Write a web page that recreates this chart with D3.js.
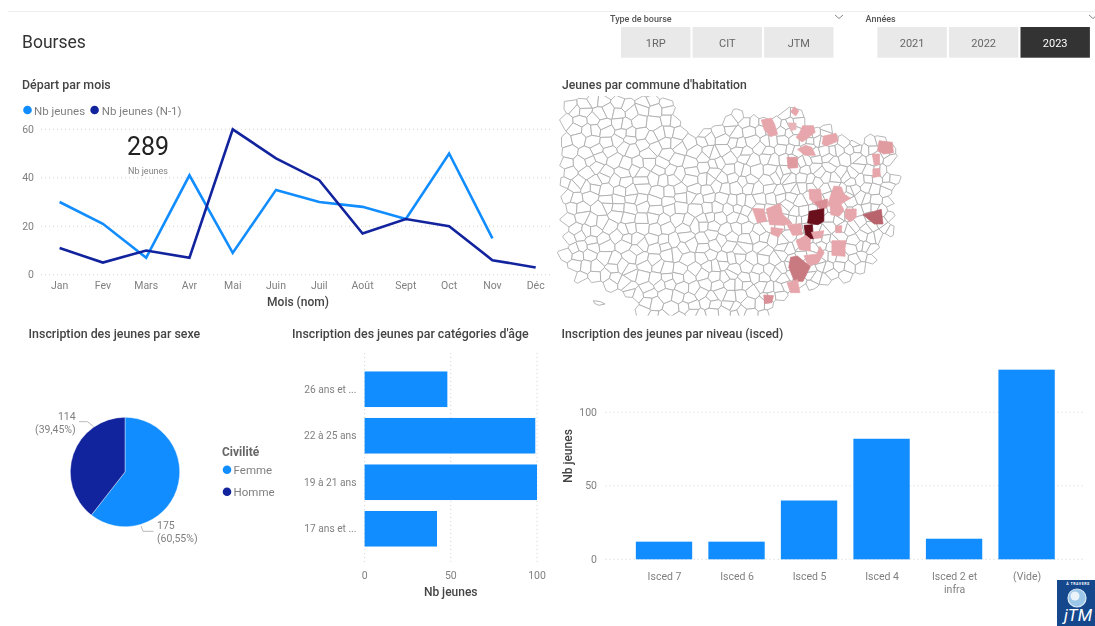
<!DOCTYPE html>
<html><head><meta charset="utf-8">
<script src="https://cdn.jsdelivr.net/npm/d3@7"></script>
<style>
html,body{margin:0;padding:0;background:#fff;overflow:hidden}
svg{display:block;filter:blur(0.45px)}
text{font-family:Roboto,"Noto Sans",sans-serif}
</style></head><body><svg id="c" width="1095" height="626"></svg>
<script>
// ---------- data ----------
const months=["Jan","Fev","Mars","Avr","Mai","Juin","Juil","Août","Sept","Oct","Nov","Déc"];
const nbJeunes=[30,21,7,41,9,35,30,28,23,50,15];
const nbJeunesN1=[11,5,10,7,60,48,39,17,23,20,6,3];
const totalJeunes="289";
const sexes=["Femme","Homme"];
const sexeValues=[175,114];
const sexeLabels=["(60,55%)","(39,45%)"];
const ageCats=["26 ans et ...","22 à 25 ans","19 à 21 ans","17 ans et ..."];
const ageValues=[48,99,100,42];
const iscedCats=[["Isced 7"],["Isced 6"],["Isced 5"],["Isced 4"],["Isced 2 et","infra"],["(Vide)"]];
const iscedValues=[12,12,40,82,14,129];
const bourseTypes=["1RP","CIT","JTM"];
const years=["2021","2022","2023"];
// commune map, in map units
const mapOutline=[[38,325],[100,292],[325,292],[355,340],[395,405],[430,415],[460,380],[540,340],[605,368],[660,345],[710,325],[755,372],[815,375],[825,415],[895,432],[950,415],[982,432],[988,540],[982,640],[998,715],[955,715],[925,795],[878,825],[800,850],[700,875],[640,900],[622,960],[245,960],[232,880],[125,855],[40,815],[45,700],[36,560],[40,400]];
const mapLake=[[125,902],[145,905],[158,912],[140,916],[128,910]];
const communeValues=[2,2,1,2,2,2,3,3,2,2,2,4,2,2,2,6,10,10,2,2,2,2,2,2,2,2,2,5,2,4];
const communeShapes=[
[[703,320],[716,333],[707,348],[692,335]],
[[608,360],[637,354],[646,372],[655,403],[634,410],[616,388]],
[[685,369],[708,369],[708,388],[693,392]],
[[718,398],[727,377],[758,377],[763,397],[737,418],[725,426],[708,412]],
[[787,408],[823,400],[829,423],[795,438],[783,432]],
[[712,448],[735,436],[753,442],[764,466],[733,466]],
[[682,472],[711,472],[713,503],[685,505]],
[[947,422],[985,427],[988,458],[960,462],[942,452]],
[[927,462],[948,462],[948,493],[933,496]],
[[929,507],[948,505],[951,528],[929,533]],
[[745,568],[778,568],[783,602],[765,616],[747,597]],
[[762,607],[798,597],[798,621],[780,632]],
[[817,558],[838,561],[846,582],[865,595],[843,608],[832,618],[797,618],[808,585]],
[[806,617],[838,614],[846,631],[832,649],[808,644]],
[[851,627],[881,627],[881,652],[863,666],[848,652]],
[[900,644],[953,628],[958,672],[933,672]],
[[746,634],[788,626],[788,663],[771,674],[741,669]],
[[731,676],[755,674],[758,716],[737,716]],
[[582,625],[615,627],[624,663],[597,669]],
[[622,627],[662,610],[669,642],[696,670],[672,676],[632,674]],
[[636,682],[672,687],[658,711],[636,702]],
[[682,674],[722,671],[726,704],[698,706]],
[[752,697],[788,692],[783,713],[760,716]],
[[708,722],[736,706],[749,717],[749,753],[718,749]],
[[822,677],[840,677],[838,698],[822,698]],
[[811,722],[852,722],[849,745],[849,769],[811,766]],
[[731,767],[768,762],[776,739],[789,758],[772,789],[743,799]],
[[692,772],[712,768],[749,800],[728,844],[703,844],[687,802]],
[[682,848],[712,839],[719,878],[692,878]],
[[615,885],[643,887],[638,908],[617,911]]];

// ---------- style ----------
const BLUE="#118DFF",NAVY="#12239E",AXIS="#808080",TITLE="#444";
const svg=d3.select("#c");
const text=(x,y,s,o={})=>svg.append("text").attr("x",x).attr("y",y).attr("dy","0.35em")
  .attr("text-anchor",o.a||"start").attr("font-size",o.s||12).attr("font-weight",o.w||400)
  .attr("fill",o.c||AXIS).text(s);
const dottedGrid=(sel)=>sel.attr("stroke","#d4d4d4").attr("stroke-width",1).attr("stroke-dasharray","1 3");

svg.append("line").attr("x1",8).attr("x2",1095).attr("y1",11.5).attr("y2",11.5).attr("stroke","#eeeeee");
text(22,42,"Bourses",{s:17.5,c:"#333"});

// ---------- slicers ----------
text(610,19,"Type de bourse",{s:9,w:500,c:"#555"});
text(865.5,19,"Années",{s:9,w:500,c:"#555"});
[[839,17],[1093,17]].forEach(([x,y])=>svg.append("path").attr("fill","none").attr("stroke","#888")
  .attr("d",d3.line()([[x-4,y-2],[x,y+1.5],[x+4,y-2]])));
const btn=(labels,x0,active)=>{
  const sc=d3.scaleBand().domain(labels).range([x0,x0+212.5]).paddingInner(0.03);
  labels.forEach(l=>{
    svg.append("rect").attr("x",sc(l)).attr("y",27).attr("width",sc.bandwidth()).attr("height",30.7)
      .attr("fill",l===active?"#333":"#e9e9e9");
    text(sc(l)+sc.bandwidth()/2,43,l,{a:"middle",s:11,c:l===active?"#fff":"#666"});
  });
};
btn(bourseTypes,621,null);
btn(years,877.4,"2023");

// ---------- line chart ----------
text(22,85,"Départ par mois",{s:12.4,w:500,c:TITLE});
[[27.5,BLUE,"Nb jeunes",34],[94.6,NAVY,"Nb jeunes (N-1)",101.8]].forEach(([x,c,l,tx])=>{
  svg.append("circle").attr("cx",x).attr("cy",110).attr("r",4.3).attr("fill",c);
  text(tx,110.5,l,{s:11.5});
});
const lx=d3.scalePoint().domain(months).range([59.6,535.7]);
const ly=d3.scaleLinear().domain([0,60]).range([274.7,129.3]);
ly.ticks(3).forEach(t=>{
  dottedGrid(svg.append("line").attr("x1",41).attr("x2",553).attr("y1",ly(t)).attr("y2",ly(t)));
  text(34,ly(t),t,{a:"end",s:10.5});
});
months.forEach(m=>text(lx(m),285.5,m,{a:"middle",s:10.5}));
text(298,302,"Mois (nom)",{a:"middle",s:12,w:500,c:TITLE});
const line=d3.line().x((d,i)=>lx(months[i])).y(d=>ly(d));
[[nbJeunes,BLUE],[nbJeunesN1,NAVY]].forEach(([v,c])=>svg.append("path").attr("d",line(v))
  .attr("fill","none").attr("stroke",c).attr("stroke-width",2.6).attr("stroke-linejoin","miter"));
text(148,146.5,totalJeunes,{a:"middle",s:25,c:"#222"});
text(148,171,"Nb jeunes",{a:"middle",s:9});

// ---------- map ----------
text(562,85,"Jeunes par commune d'habitation",{s:12.2,w:500,c:TITLE});
const mx=d3.scaleLinear().domain([0,1568]).range([550,1095]);
const my=d3.scaleLinear().domain([0,960]).range([0,320]);
const projPath=pts=>d3.line().x(d=>mx(d[0])).y(d=>my(d[1])).curve(d3.curveLinearClosed)(pts);
svg.append("defs").append("clipPath").attr("id","mapClip").append("rect")
  .attr("x",555).attr("y",96).attr("width",360).attr("height",219.5);
const gMap=svg.append("g").attr("clip-path","url(#mapClip)");
// background mesh: commune borders cannot be read one by one, so this is an approximate lattice
const seeds=[];
let rowIdx=0;
for(let yy=250;yy<1000;yy+=29,rowIdx++){
  let xx=-20+(rowIdx%2)*14;
  while(xx<1060){
    const j1=Math.sin(xx*12.9898+yy*78.233)*43758.5453,j2=Math.sin(xx*39.346+yy*11.135)*24634.6345;
    seeds.push([xx+(j1-Math.floor(j1)-.5)*24,yy+(j2-Math.floor(j2)-.5)*22]);
    xx+=xx<420?35:xx<640?30:25;
  }
}
const vor=d3.Delaunay.from(seeds).voronoi([-100,150,1200,1100]);
seeds.forEach((s,i)=>{
  if(!d3.polygonContains(mapOutline,s))return;
  const cell=vor.cellPolygon(i);
  gMap.append("path").attr("d",projPath(cell.slice(0,-1))).attr("fill","#fff")
    .attr("stroke","#ababab").attr("stroke-width",0.85);
});
gMap.append("path").attr("d",projPath(mapLake)).attr("fill","#fff").attr("stroke","#a9a9a9").attr("stroke-width",0.9);
const mapColor=d3.scaleLinear().domain([1,2,4,6,10]).range(["#e9b4b8","#e6a6ab","#d98f95","#b9646d","#6a0f1c"]);
communeShapes.forEach((p,i)=>gMap.append("path").attr("d",projPath(p)).attr("fill",mapColor(communeValues[i]))
  .attr("stroke",mapColor(communeValues[i])).attr("stroke-width",0.7));

// ---------- pie ----------
text(28.6,334,"Inscription des jeunes par sexe",{s:12.4,w:500,c:TITLE});
const pie=d3.pie().sort(null)(sexeValues);
const arc=d3.arc().innerRadius(0).outerRadius(54.7);
const gPie=svg.append("g").attr("transform","translate(125,472)");
gPie.selectAll("path").data(pie).join("path").attr("d",arc)
  .attr("fill",(d,i)=>[BLUE,NAVY][i]).attr("stroke","#fff").attr("stroke-width",0.4);
[[[79,421.7],[87.5,421.7],[93.6,426.7]],[[141,526],[143,531.3],[153.6,531.3]]].forEach(p=>
  svg.append("path").attr("d",d3.line()(p)).attr("fill","none").attr("stroke","#bbb"));
text(75.7,416,sexeValues[1],{a:"end",s:10.5});
text(75.7,429.5,sexeLabels[1],{a:"end",s:10.5});
text(157,525,sexeValues[0],{s:10.5});
text(157,538.7,sexeLabels[0],{s:10.5});
text(222,451.7,"Civilité",{s:12,w:700,c:"#666"});
sexes.forEach((s,i)=>{
  const y=[469.7,491.7][i];
  svg.append("circle").attr("cx",227).attr("cy",y).attr("r",4.3).attr("fill",[BLUE,NAVY][i]);
  text(233.6,y+.5,s,{s:11.5});
});

// ---------- age bars ----------
text(292,334,"Inscription des jeunes par catégories d'âge",{s:12.4,w:500,c:TITLE});
const ax=d3.scaleLinear().domain([0,100]).range([364.6,537]);
const ay=d3.scaleBand().domain(ageCats).range([353,565]).paddingInner(.235).paddingOuter(.397);
ax.ticks(2).forEach(t=>{
  dottedGrid(svg.append("line").attr("x1",ax(t)).attr("x2",ax(t)).attr("y1",353).attr("y2",565));
  text(ax(t),575.5,t,{a:"middle",s:10.5});
});
ageCats.forEach((c,i)=>{
  svg.append("rect").attr("x",ax(0)).attr("y",ay(c)).attr("width",ax(ageValues[i])-ax(0)).attr("height",ay.bandwidth()).attr("fill",BLUE);
  text(356.5,ay(c)+ay.bandwidth()/2,c,{a:"end",s:10.2});
});
text(450.7,592,"Nb jeunes",{a:"middle",s:12,w:500,c:TITLE});

// ---------- isced bars ----------
text(561.5,334,"Inscription des jeunes par niveau (isced)",{s:12.3,w:500,c:TITLE});
const iy=d3.scaleLinear().domain([0,100]).range([559.3,412.3]);
const ix=d3.scaleBand().domain(d3.range(iscedValues.length)).range([605.6,1085]).paddingInner(.223).paddingOuter(.417);
iy.ticks(2).forEach(t=>{
  dottedGrid(svg.append("line").attr("x1",605.6).attr("x2",1085).attr("y1",iy(t)).attr("y2",iy(t)));
  text(597,iy(t),t,{a:"end",s:10.5});
});
iscedValues.forEach((v,i)=>{
  svg.append("rect").attr("x",ix(i)).attr("y",iy(v)).attr("width",ix.bandwidth()).attr("height",iy(0)-iy(v)).attr("fill",BLUE);
  iscedCats[i].forEach((l,k)=>text(ix(i)+ix.bandwidth()/2+.5,576.7+k*13,l,{a:"middle",s:10.5}));
});
svg.append("text").attr("transform","translate(568,456) rotate(-90)").attr("dy","0.35em").attr("text-anchor","middle")
  .attr("font-size",12).attr("font-weight",500).attr("fill",TITLE).text("Nb jeunes");

// ---------- logo ----------
svg.append("rect").attr("x",1057).attr("y",580).attr("width",38).attr("height",46).attr("fill","#14478c");
svg.append("text").attr("x",1078).attr("y",585).attr("text-anchor","middle").attr("font-size",3.6).attr("font-weight",700)
  .attr("letter-spacing",.5).attr("fill","#fff").text("À TRAVERS");
svg.append("circle").attr("cx",1077).attr("cy",598).attr("r",9).attr("fill","#9cc6e8").attr("stroke","#dcebf7").attr("stroke-width",1.2);
svg.append("circle").attr("cx",1075).attr("cy",596).attr("r",4.5).attr("fill","#eaf3fa");
svg.append("text").attr("x",1078).attr("y",621).attr("text-anchor","middle").attr("font-size",17)
  .attr("font-style","italic").attr("fill","#fff").text("jTM");
</script></body></html>
